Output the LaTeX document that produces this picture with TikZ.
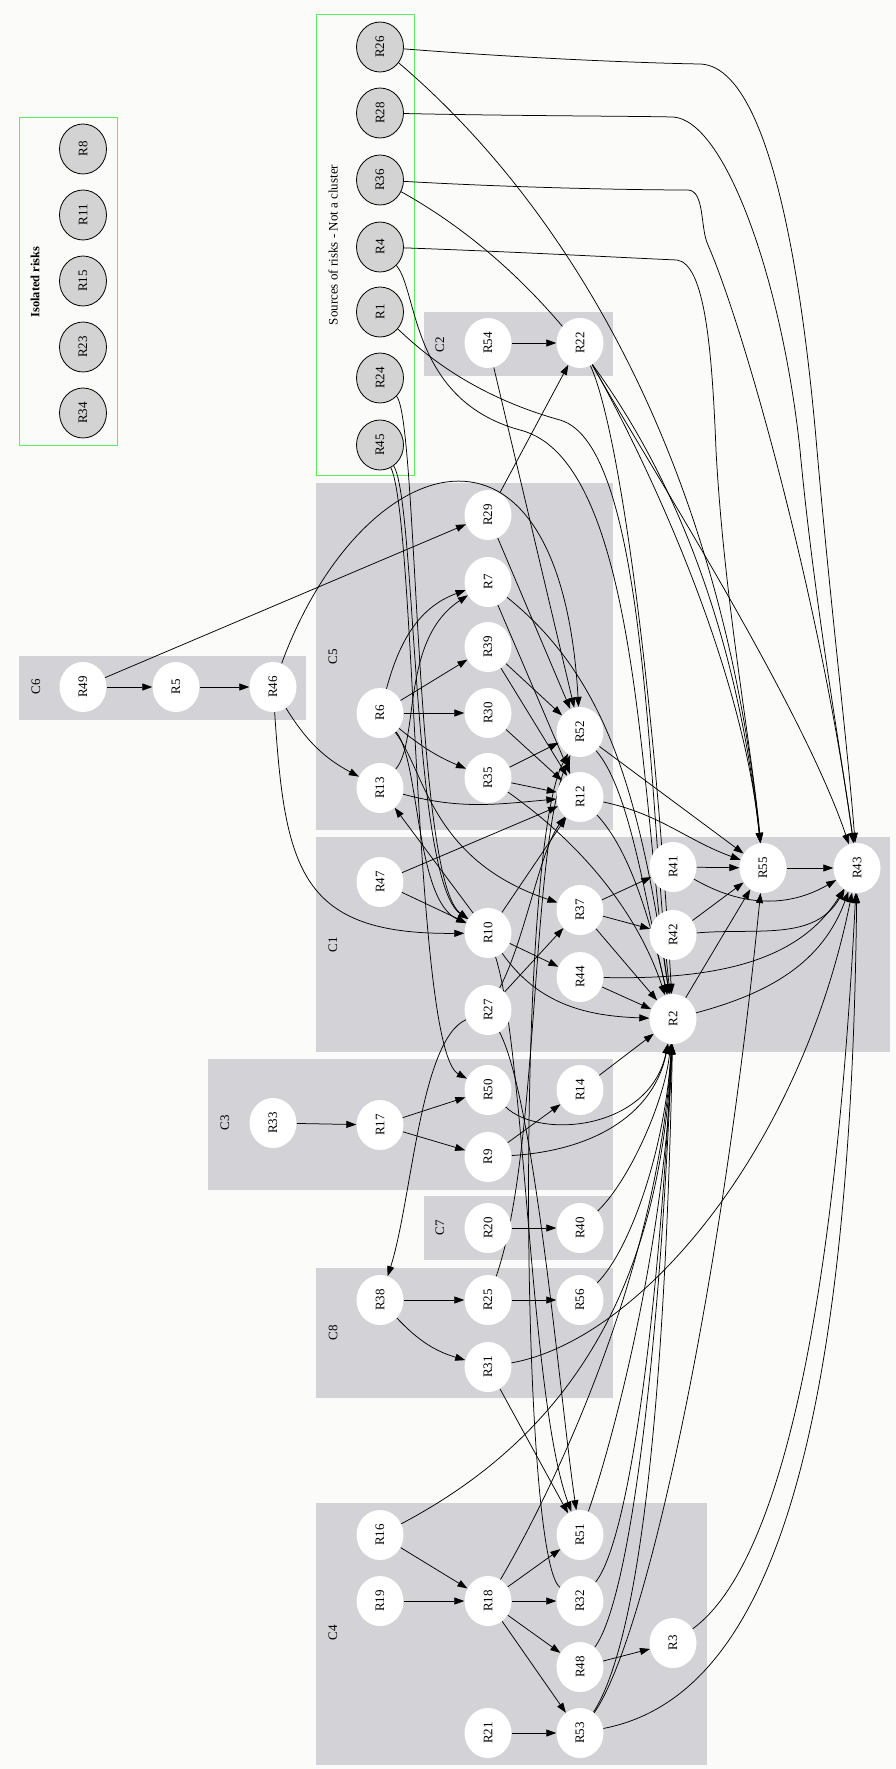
\documentclass[tikz,border=0pt]{standalone}
\usepackage{fontspec}
\setmainfont{Liberation Serif}
\usetikzlibrary{shapes.geometric,arrows.meta}
\pgfdeclarelayer{bg}
\pgfdeclarelayer{edgelayer}
\pgfsetlayers{bg,edgelayer,main}
\definecolor{clfill}{RGB}{211,210,214}
\definecolor{pagebg}{RGB}{251,252,250}
\definecolor{boxgreen}{RGB}{90,240,90}
\definecolor{srcfill}{RGB}{211,211,211}
\newcommand{\rtext}[1]{\rotatebox{90}{#1}}
\begin{document}
\begin{tikzpicture}[x=1pt,y=1pt,
  wn/.style={ellipse, fill=white, minimum width=47pt, minimum height=50pt, inner sep=0pt, font=\fontsize{13}{13}\selectfont},
  gn/.style={wn, fill=srcfill, draw=black, line width=0.8pt},
  cl/.style={fill=clfill, draw=none},
  gbox/.style={draw=boxgreen, line width=1pt},
  clab/.style={rotate=90, font=\fontsize{13}{13}\selectfont, inner sep=0pt},
  ed/.style={draw=black, line width=0.75pt, -{Triangle[length=10pt,width=7pt]}}]
\useasboundingbox (0,0) rectangle (896,-1769);
\begin{pgfonlayer}{bg}
\fill[pagebg] (0,0) rectangle (896,-1769);
\fill[cl] (424,-312) rectangle (613,-376);
\fill[cl] (19,-656) rectangle (306,-720);
\fill[cl] (316,-483) rectangle (613,-830);
\fill[cl] (316,-837) rectangle (890,-1052);
\fill[cl] (208,-1059) rectangle (613,-1190);
\fill[cl] (424,-1196) rectangle (613,-1260);
\fill[cl] (316,-1268) rectangle (613,-1398);
\fill[cl] (316,-1503) rectangle (707,-1765);
\draw[gbox] (19,-117) rectangle (117,-445);
\draw[gbox] (316,-15) rectangle (414,-475);
\end{pgfonlayer}
% cluster labels
\node[clab, font=\fontsize{12.5}{12.5}\selectfont\bfseries] (labIso) at (35,-282) {Isolated risks};
\node[clab] (labSrc) at (333,-245) {Sources of risks - Not a cluster};
\node[clab] (labC2) at (440,-345) {C2};
\node[clab] (labC6) at (36,-687) {C6};
\node[clab] (labC5) at (333,-657) {C5};
\node[clab] (labC1) at (333,-945) {C1};
\node[clab] (labC3) at (225,-1123) {C3};
\node[clab] (labC7) at (440,-1228) {C7};
\node[clab] (labC8) at (333,-1333) {C8};
\node[clab] (labC4) at (333,-1633) {C4};
% isolated
\node[gn] (R8) at (83,-149) {\rtext{R8}};
\node[gn] (R11) at (83,-215) {\rtext{R11}};
\node[gn] (R15) at (83,-281) {\rtext{R15}};
\node[gn] (R23) at (83,-347) {\rtext{R23}};
\node[gn] (R34) at (83,-413) {\rtext{R34}};
% sources
\node[gn] (R26) at (380,-47) {\rtext{R26}};
\node[gn] (R28) at (380,-113) {\rtext{R28}};
\node[gn] (R36) at (380,-180) {\rtext{R36}};
\node[gn] (R4) at (380,-247) {\rtext{R4}};
\node[gn] (R1) at (380,-312) {\rtext{R1}};
\node[gn] (R24) at (380,-378) {\rtext{R24}};
\node[gn] (R45) at (380,-445) {\rtext{R45}};
% C2
\node[wn] (R54) at (488,-343) {\rtext{R54}};
\node[wn] (R22) at (580,-343) {\rtext{R22}};
% C6
\node[wn] (R49) at (83,-687) {\rtext{R49}};
\node[wn] (R5) at (176,-687) {\rtext{R5}};
\node[wn] (R46) at (273,-687) {\rtext{R46}};
% C5
\node[wn] (R6) at (380,-713) {\rtext{R6}};
\node[wn] (R13) at (380,-788) {\rtext{R13}};
\node[wn] (R29) at (488,-515) {\rtext{R29}};
\node[wn] (R7) at (488,-582) {\rtext{R7}};
\node[wn] (R39) at (488,-647) {\rtext{R39}};
\node[wn] (R30) at (488,-713) {\rtext{R30}};
\node[wn] (R35) at (488,-778) {\rtext{R35}};
\node[wn] (R52) at (580,-732) {\rtext{R52}};
\node[wn] (R12) at (580,-797) {\rtext{R12}};
% C1
\node[wn] (R47) at (380,-882) {\rtext{R47}};
\node[wn] (R10) at (488,-933) {\rtext{R10}};
\node[wn] (R27) at (488,-1010) {\rtext{R27}};
\node[wn] (R37) at (580,-910) {\rtext{R37}};
\node[wn] (R44) at (580,-977) {\rtext{R44}};
\node[wn] (R41) at (673,-867) {\rtext{R41}};
\node[wn] (R42) at (673,-935) {\rtext{R42}};
\node[wn] (R2) at (673,-1019) {\rtext{R2}};
\node[wn] (R55) at (763,-868) {\rtext{R55}};
\node[wn] (R43) at (857,-868) {\rtext{R43}};
% C3
\node[wn] (R33) at (273,-1123) {\rtext{R33}};
\node[wn] (R17) at (380,-1125) {\rtext{R17}};
\node[wn] (R50) at (488,-1090) {\rtext{R50}};
\node[wn] (R9) at (488,-1157) {\rtext{R9}};
\node[wn] (R14) at (580,-1090) {\rtext{R14}};
% C7
\node[wn] (R20) at (488,-1228) {\rtext{R20}};
\node[wn] (R40) at (580,-1228) {\rtext{R40}};
% C8
\node[wn] (R38) at (380,-1300) {\rtext{R38}};
\node[wn] (R25) at (488,-1300) {\rtext{R25}};
\node[wn] (R56) at (580,-1300) {\rtext{R56}};
\node[wn] (R31) at (488,-1367) {\rtext{R31}};
% C4
\node[wn] (R16) at (380,-1535) {\rtext{R16}};
\node[wn] (R19) at (380,-1601) {\rtext{R19}};
\node[wn] (R18) at (488,-1601) {\rtext{R18}};
\node[wn] (R51) at (580,-1535) {\rtext{R51}};
\node[wn] (R32) at (580,-1601) {\rtext{R32}};
\node[wn] (R48) at (580,-1667) {\rtext{R48}};
\node[wn] (R3) at (673,-1643) {\rtext{R3}};
\node[wn] (R21) at (488,-1733) {\rtext{R21}};
\node[wn] (R53) at (580,-1733) {\rtext{R53}};
\begin{pgfonlayer}{edgelayer}
% sources
\draw[ed] (R26) .. controls (520,-58) and (640,-63) .. (700,-64) .. controls (765,-66) and (800,-250) .. (817,-450) .. controls (830,-600) and (848,-750) .. (R43);
\draw[ed] (R26) .. controls (560,-200) and (720,-450) .. (R55);
\draw[ed] (R28) .. controls (520,-116) and (630,-116) .. (673,-117) .. controls (725,-120) and (782,-280) .. (800,-450) .. controls (814,-600) and (842,-760) .. (R43);
\draw[ed] (R36) .. controls (520,-188) and (640,-190) .. (688,-190) .. controls (705,-191) and (700,-228) .. (708,-245) .. controls (745,-330) and (820,-600) .. (R43);
\draw[ed] (R36) .. controls (560,-280) and (720,-480) .. (R55);
\draw[ed] (R4) .. controls (520,-252) and (630,-258) .. (677,-260) .. controls (705,-264) and (712,-350) .. (716,-450) .. controls (724,-600) and (752,-750) .. (R55);
\draw[ed] (R4) .. controls (418,-290) and (410,-400) .. (520,-430) .. controls (640,-460) and (640,-800) .. (R2);
\draw[ed] (R1) .. controls (420,-350) and (470,-395) .. (560,-420) .. controls (648,-445) and (648,-800) .. (R2);
\draw[ed] (R24) .. controls (418,-420) and (414,-880) .. (R10);
\draw[ed] (R45) .. controls (416,-500) and (412,-880) .. (R10);
\draw[ed] (R45) .. controls (416,-520) and (414,-1050) .. (R50);
% C2, C6
\draw[ed] (R54) -- (R22);
\draw[ed] (R54) -- (R52);
\draw[ed] (R22) .. controls (640,-450) and (800,-700) .. (R43);
\draw[ed] (R22) .. controls (635,-440) and (740,-650) .. (R55);
\draw[ed] (R22) .. controls (620,-430) and (655,-700) .. (R2);
\draw[ed] (R29) -- (R22);
\draw[ed] (R29) -- (R52);
\draw[ed] (R49) -- (R29);
\draw[ed] (R49) -- (R5);
\draw[ed] (R5) -- (R46);
\draw[ed] (R46) to[bend right=15] (R13);
\draw[ed] (R46) .. controls (360,-450) and (560,-380) .. (R52);
\draw[ed] (R46) .. controls (285,-870) and (300,-935) .. (R10);
% C5
\draw[ed] (R6) to[out=75,in=200] (R7);
\draw[ed] (R13) .. controls (420,-740) and (400,-640) .. (R7);
\draw[ed] (R6) -- (R39);
\draw[ed] (R6) -- (R30);
\draw[ed] (R6) to[bend right=8] (R35);
\draw[ed] (R6) .. controls (420,-760) and (415,-900) .. (R10);
\draw[ed] (R6) .. controls (425,-770) and (430,-860) .. (R37);
\draw[ed] (R7) -- (R12);
\draw[ed] (R7) .. controls (610,-680) and (640,-800) .. (R2);
\draw[ed] (R39) -- (R52);
\draw[ed] (R39) -- (R12);
\draw[ed] (R30) -- (R12);
\draw[ed] (R35) -- (R52);
\draw[ed] (R35) -- (R12);
\draw[ed] (R35) .. controls (590,-850) and (640,-920) .. (R2);
\draw[ed] (R13) to[out=-15,in=185] (R12);
\draw[ed] (R10) -- (R13);
\draw[ed] (R52) -- (R55);
\draw[ed] (R52) .. controls (630,-790) and (645,-900) .. (R2);
\draw[ed] (R12) to[out=-12,in=160] (R55);
\draw[ed] (R12) .. controls (630,-850) and (650,-920) .. (R2);
% C1
\draw[ed] (R47) -- (R10);
\draw[ed] (R47) -- (R12);
\draw[ed] (R10) -- (R12);
\draw[ed] (R10) -- (R44);
\draw[ed] (R10) to[out=-55,in=178] (R2);
\draw[ed] (R10) .. controls (525,-1050) and (530,-1400) .. (R51);
\draw[ed] (R27) -- (R37);
\draw[ed] (R27) .. controls (525,-940) and (540,-850) .. (R12);
\draw[ed] (R27) .. controls (420,-1040) and (412,-1200) .. (R38);
\draw[ed] (R27) .. controls (535,-1100) and (560,-1400) .. (R51);
\draw[ed] (R37) -- (R41);
\draw[ed] (R37) -- (R42);
\draw[ed] (R37) -- (R2);
\draw[ed] (R44) -- (R2);
\draw[ed] (R44) .. controls (720,-980) and (800,-960) .. (R43);
\draw[ed] (R41) -- (R55);
\draw[ed] (R41) to[out=-30,in=-150] (R43);
\draw[ed] (R42) -- (R55);
\draw[ed] (R42) to[out=5,in=-120] (R43);
\draw[ed] (R2) -- (R55);
\draw[ed] (R2) to[out=15,in=-110] (R43);
\draw[ed] (R55) -- (R43);
% C3, C7
\draw[ed] (R33) -- (R17);
\draw[ed] (R17) -- (R50);
\draw[ed] (R17) -- (R9);
\draw[ed] (R50) .. controls (540,-1140) and (650,-1130) .. (R2);
\draw[ed] (R9) -- (R14);
\draw[ed] (R9) .. controls (600,-1150) and (655,-1110) .. (R2);
\draw[ed] (R14) -- (R2);
\draw[ed] (R20) -- (R40);
\draw[ed] (R40) .. controls (630,-1180) and (665,-1100) .. (R2);
% C8
\draw[ed] (R38) -- (R25);
\draw[ed] (R38) to[bend right=15] (R31);
\draw[ed] (R25) -- (R56);
\draw[ed] (R25) .. controls (540,-1150) and (530,-850) .. (R52);
\draw[ed] (R56) .. controls (630,-1250) and (665,-1150) .. (R2);
\draw[ed] (R31) .. controls (640,-1340) and (800,-1150) .. (R43);
\draw[ed] (R31) -- (R51);
% C4
\draw[ed] (R16) -- (R18);
\draw[ed] (R19) -- (R18);
\draw[ed] (R21) -- (R53);
\draw[ed] (R16) .. controls (560,-1440) and (660,-1300) .. (R2);
\draw[ed] (R18) -- (R51);
\draw[ed] (R18) -- (R32);
\draw[ed] (R18) -- (R48);
\draw[ed] (R18) -- (R53);
\draw[ed] (R18) .. controls (570,-1460) and (660,-1250) .. (R2);
\draw[ed] (R32) .. controls (520,-1560) and (515,-850) .. (R52);
\draw[ed] (R32) .. controls (630,-1540) and (660,-1300) .. (R2);
\draw[ed] (R51) .. controls (610,-1450) and (665,-1250) .. (R2);
\draw[ed] (R48) -- (R3);
\draw[ed] (R48) .. controls (630,-1600) and (660,-1350) .. (R2);
\draw[ed] (R53) .. controls (640,-1640) and (665,-1400) .. (R2);
\draw[ed] (R53) .. controls (645,-1640) and (720,-1300) .. (R55);
\draw[ed] (R53) .. controls (750,-1700) and (850,-1500) .. (R43);
\draw[ed] (R3) .. controls (760,-1580) and (830,-1400) .. (R43);
\end{pgfonlayer}
\end{tikzpicture}
\end{document}
